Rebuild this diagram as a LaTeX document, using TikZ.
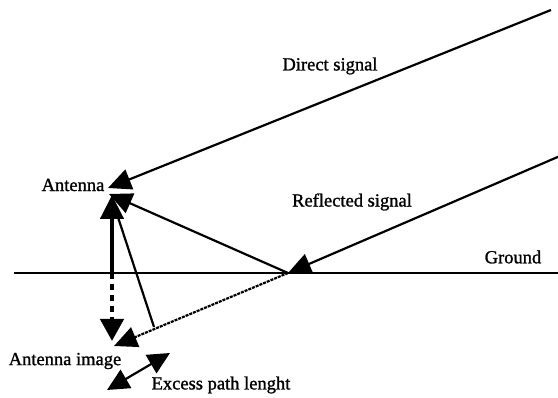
\documentclass[tikz,border=0pt]{standalone}
\usepackage{fontspec}
\setmainfont{Liberation Serif}[FakeBold=1.2]
\usetikzlibrary{arrows.meta}
\begin{document}
\begin{tikzpicture}[x=1pt,y=-1pt,
  lbl/.style={font=\fontsize{18.5}{20}\selectfont, inner sep=0pt},
  tri/.style={-{Triangle[length=23pt,width=21pt]}},
  ln/.style={line width=2.2pt},
]
\useasboundingbox (0,0) rectangle (558,398);
% coordinates
\coordinate (dsrc) at (551,10);
\coordinate (rsrc) at (560,156);
\coordinate (ant) at (108,188);
\coordinate (antr) at (109,194);
\coordinate (antv) at (112,195);
\coordinate (refl) at (288,273);
\coordinate (gl) at (14,273);
\coordinate (gr) at (558,273);
\coordinate (gv) at (112,273);
\coordinate (img) at (112,341);
\coordinate (imgx) at (114,346);
\coordinate (foot) at (154,327);
\coordinate (foottop) at (113,202);
\coordinate (ea) at (107,390);
\coordinate (eb) at (170,353);
% ground
\draw[ln] (gl) -- (gr);
% direct signal
\draw[ln,tri] (dsrc) -- (ant);
% reflected incoming
\draw[ln,tri] (rsrc) -- (refl);
% reflected to antenna
\draw[ln,tri] (refl) -- (antr);
% extension to image
\draw[line width=2.2pt,dash pattern=on 3pt off 1pt,tri] (refl) -- (imgx);
% antenna vertical
\draw[line width=4.5pt,-{Triangle[length=24pt,width=23pt]}] (gv) -- (antv);
\draw[line width=4.5pt,dash pattern=on 6pt off 5pt,-{Triangle[length=22pt,width=23pt]}] (gv) -- (img);
% perpendicular
\draw[ln] (foottop) -- (foot);
% excess path
\draw[ln,{Triangle[length=22pt,width=21pt]}-{Triangle[length=22pt,width=21pt]}] (ea) -- (eb);
% labels
\node[lbl] (tdirect) at (330,66) {Direct signal};
\node[lbl] (tant) at (73,185) {Antenna};
\node[lbl] (trefl) at (352,202) {Reflected signal};
\node[lbl] (tground) at (513,257) {Ground};
\node[lbl] (timg) at (65,361) {Antenna image};
\node[lbl] (texcess) at (221,385) {Excess path lenght};
\end{tikzpicture}
\end{document}
